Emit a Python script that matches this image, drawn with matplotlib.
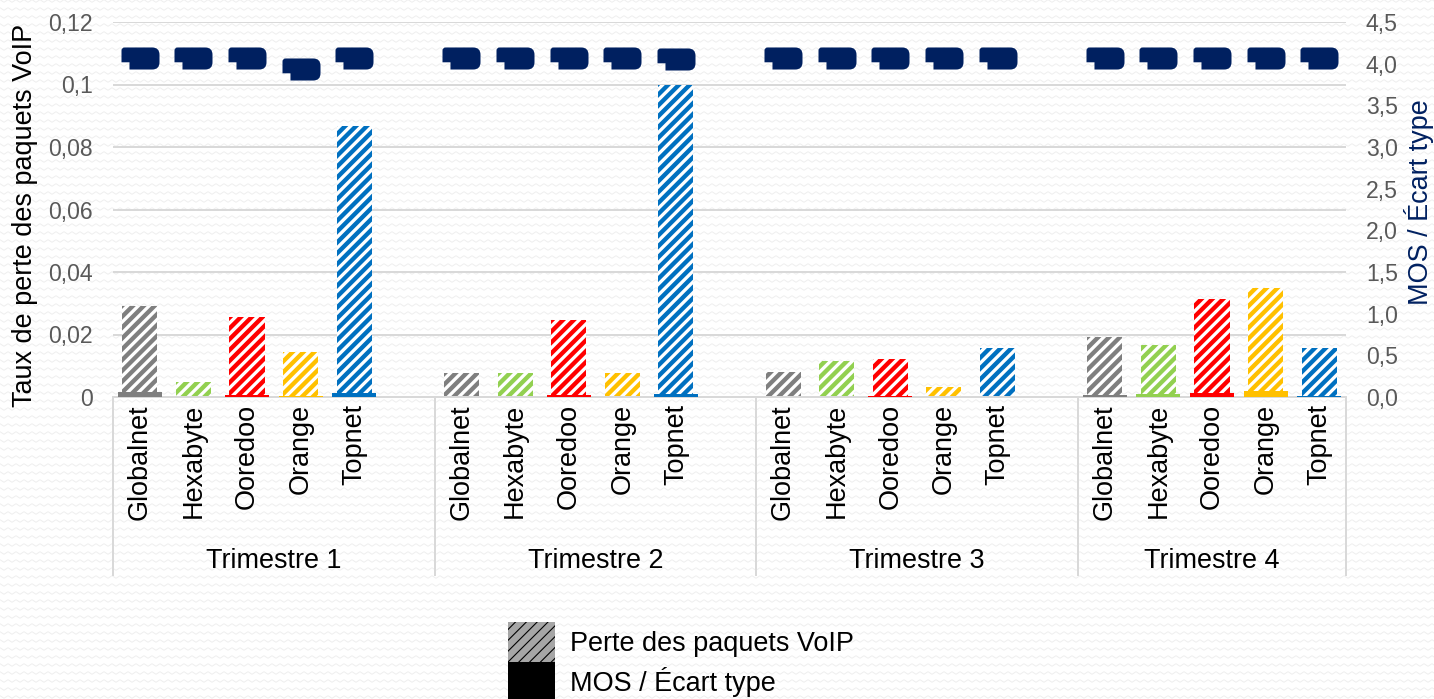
import numpy as np
import matplotlib
matplotlib.use("Agg")
import matplotlib.pyplot as plt
from matplotlib.path import Path
from matplotlib.patches import Patch
from matplotlib.collections import LineCollection
from matplotlib.transforms import IdentityTransform, blended_transform_factory
from matplotlib.ticker import FuncFormatter, MultipleLocator

# ---------------- data ----------------
quarters = ["Trimestre 1", "Trimestre 2", "Trimestre 3", "Trimestre 4"]
operators = ["Globalnet", "Hexabyte", "Ooredoo", "Orange", "Topnet"]
op_colors = ["#7f7f7f", "#92d050", "#ff0000", "#ffc000", "#0070c0"]

loss_t1 = [0.0291, 0.0047, 0.0256, 0.0144, 0.0867]
loss_t2 = [0.0078, 0.0077, 0.0246, 0.0077, 0.0998]
loss_t3 = [0.0081, 0.0115, 0.0122, 0.0032, 0.0158]
loss_t4 = [0.0193, 0.0166, 0.0314, 0.0349, 0.0158]

mos_t1 = [4.07, 4.07, 4.07, 3.94, 4.07]
mos_t2 = [4.07, 4.07, 4.07, 4.07, 4.06]
mos_t3 = [4.07, 4.07, 4.07, 4.07, 4.07]
mos_t4 = [4.07, 4.07, 4.07, 4.07, 4.07]

ecart_t1 = [0.056, 0.004, 0.025, 0.012, 0.048]
ecart_t2 = [0.004, 0.004, 0.024, 0.006, 0.040]
ecart_t3 = [0.003, 0.003, 0.012, 0.003, 0.006]
ecart_t4 = [0.024, 0.036, 0.048, 0.076, 0.012]

legend_labels = ["Perte des paquets VoIP", "MOS / Écart type"]
left_label = "Taux de perte des paquets VoIP"
right_label = "MOS / Écart type"

loss = [loss_t1, loss_t2, loss_t3, loss_t4]
mos = [mos_t1, mos_t2, mos_t3, mos_t4]
ecart = [ecart_t1, ecart_t2, ecart_t3, ecart_t4]

# ---------------- style ----------------
W, H, DPI = 1434, 699, 130
def pt(px):
    return px * 72.0 / DPI

plt.rcParams["font.family"] = ["Liberation Sans", "DejaVu Sans"]
plt.rcParams["hatch.linewidth"] = pt(3.3)

navy = "#002060"
grid_c = "#d9d9d9"
tick_c = "#595959"

fig = plt.figure(figsize=(W / DPI, H / DPI), dpi=DPI)
fig.patch.set_facecolor("white")

# faint wavy background texture
rows = np.arange(2, H, 8.0)
xs = np.arange(-4, W + 8, 4.0)
offs = np.where((np.arange(len(xs)) % 2) == 0, -1.3, 1.3)
segs = [np.column_stack([xs, r + offs]) for r in rows]
bg = LineCollection(segs, colors="#efefef", linewidths=pt(1.0),
                    transform=IdentityTransform(), zorder=-10)
fig.add_artist(bg)

x0, x1, y0, y1 = 113, 1346, 397, 22
ax = fig.add_axes([x0 / W, 1 - y0 / H, (x1 - x0) / W, (y0 - y1) / H])
ax.set_facecolor("none")
ax2 = ax.twinx()
ax2.set_facecolor("none")

n_q = len(quarters)
n_op = len(operators)
n_slots = n_q * (n_op + 1) - 1

pos, labels_x = [], []
for q in range(n_q):
    for j in range(n_op):
        pos.append(q * (n_op + 1) + j)
        labels_x.append(operators[j])

flat_loss = [v for row in loss for v in row]
flat_mos = [v for row in mos for v in row]
flat_ecart = [v for row in ecart for v in row]
flat_cols = [op_colors[j] for q in range(n_q) for j in range(n_op)]

# hatched loss bars (left axis)
ax.bar(pos, flat_loss, width=0.655, color=flat_cols, edgecolor="white",
       hatch="////", linewidth=0, zorder=2)

# solid écart-type bars and MOS markers (right axis)
ax2.bar(pos, flat_ecart, width=0.82, color=flat_cols, linewidth=0, zorder=2)

hw, hh = 0.5, 0.29
nw, nh = 0.21, 0.19
r, rt = 0.19, 0.08
verts = [
    (-hw + nw, -hh), (hw - r, -hh), (hw, -hh), (hw, -hh + r),
    (hw, hh - r), (hw, hh), (hw - r, hh),
    (-hw + rt, hh), (-hw, hh), (-hw, hh - rt),
    (-hw, -hh + nh), (-hw + nw, -hh + nh), (-hw + nw, -hh),
]
codes = [
    Path.MOVETO, Path.LINETO, Path.CURVE3, Path.CURVE3,
    Path.LINETO, Path.CURVE3, Path.CURVE3,
    Path.LINETO, Path.CURVE3, Path.CURVE3,
    Path.LINETO, Path.LINETO, Path.CLOSEPOLY,
]
mos_marker = Path(verts, codes)
ax2.plot(pos, flat_mos, linestyle="none", marker=mos_marker,
         markersize=pt(38), color=navy, markeredgewidth=0, zorder=5)

# axes limits / ticks
ax.set_xlim(-0.5, n_slots - 0.5)
ax.set_ylim(0, 0.12)
ax.yaxis.set_major_locator(MultipleLocator(0.02))
ax.yaxis.set_major_formatter(FuncFormatter(
    lambda v, p: ("%g" % round(v, 4)).replace(".", ",")))
ax2.set_ylim(0, 4.5)
ax2.yaxis.set_major_locator(MultipleLocator(0.5))
ax2.yaxis.set_major_formatter(FuncFormatter(
    lambda v, p: ("%.1f" % v).replace(".", ",")))

ax.set_xticks(pos)
ax.set_xticklabels(labels_x, rotation=90, fontsize=pt(27), color="black")
ax.tick_params(axis="x", length=0, pad=pt(7))
ax.tick_params(axis="y", length=0, pad=pt(20), labelsize=pt(23), labelcolor=tick_c)
ax2.tick_params(axis="y", length=0, pad=pt(20), labelsize=pt(23), labelcolor=tick_c)

ax.grid(axis="y", color=grid_c, linewidth=pt(2))
ax.set_axisbelow(True)
for s in ["left", "right", "top"]:
    ax.spines[s].set_visible(False)
for s in ["left", "right", "top", "bottom"]:
    ax2.spines[s].set_visible(False)
ax.spines["bottom"].set_color(grid_c)
ax.spines["bottom"].set_linewidth(pt(2))

# group separators and quarter labels
tr = blended_transform_factory(ax.transData, ax.transAxes)
bounds = [-0.5] + [q * (n_op + 1) - 0.5 for q in range(1, n_q)] + [n_slots - 0.5]
for b in bounds:
    ax.plot([b, b], [0, -(575 - 397) / 375], transform=tr, color=grid_c,
            linewidth=pt(2), clip_on=False)
for q in range(n_q):
    cx = (bounds[q] + bounds[q + 1]) / 2
    ax.text(cx, -(561 - 397) / 375, quarters[q], transform=tr, ha="center",
            va="center", fontsize=pt(27), color="black")

# axis titles
ax.set_ylabel(left_label, fontsize=pt(27), color="black")
ax.yaxis.set_label_coords((38 - x0) / (x1 - x0), 0.483)
ax2.set_ylabel(right_label, fontsize=pt(27), color=navy)
ax2.yaxis.set_label_coords((1404 - x0) / (x1 - x0), 0.52)

# legend
hh_leg = (40 / 27 - 0.245) / 0.65
with plt.rc_context({"hatch.linewidth": pt(1.1)}):
    h1 = Patch(facecolor="#a6a6a6", edgecolor="black", hatch="////", linewidth=0)
    h2 = Patch(facecolor="black", linewidth=0)
    fig.legend([h1, h2], legend_labels, loc="upper left",
               bbox_to_anchor=(508 / W, 1 - 622 / H), frameon=False,
               fontsize=pt(27), handlelength=47 / 27, handleheight=hh_leg,
               handletextpad=15 / 27, labelspacing=0, borderpad=0,
               borderaxespad=0)

fig.savefig("out.png", dpi=DPI, facecolor="white")
